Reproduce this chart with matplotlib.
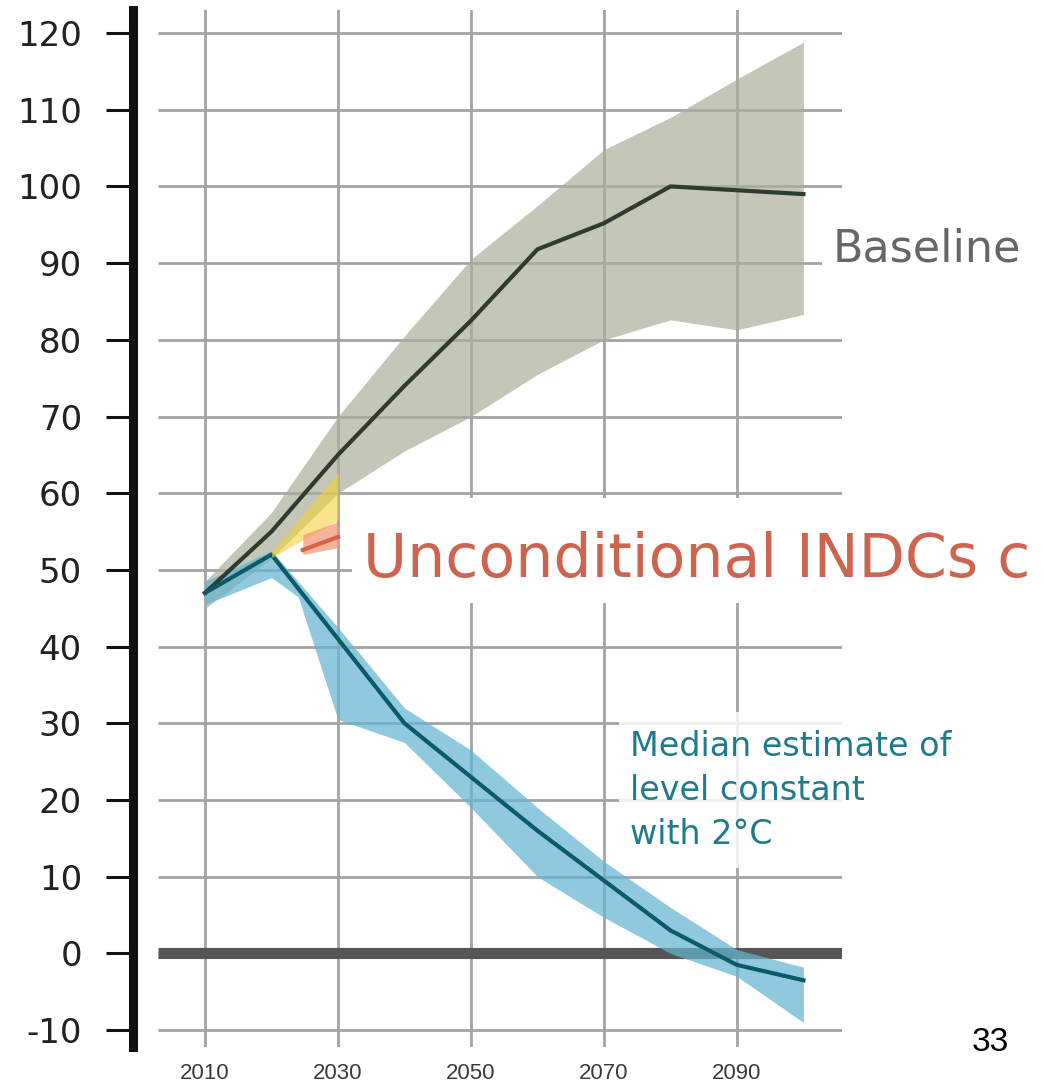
import matplotlib
matplotlib.use("Agg")
import matplotlib.pyplot as plt
import numpy as np
from matplotlib.patches import Rectangle

plt.rcParams['font.family'] = ['DejaVu Sans']

# ---------------- data ----------------
years = [2010, 2020, 2030, 2040, 2050, 2060, 2070, 2080, 2090, 2100]
baseline_median = [47, 55, 65, 74, 82.5, 91.8, 95.2, 100, 99.5, 99]
baseline_upper = [48.5, 57.5, 70, 80.5, 90.5, 97.5, 104.8, 109, 114, 118.8]
baseline_lower = [45, 51.5, 60, 65.5, 70, 75.5, 80, 82.6, 81.3, 83.3]

two_deg_median = [47, 52, 41, 30, 23, 16, 9.5, 3, -1.5, -3.5]
two_deg_upper = [48.5, 52.5, 42.5, 32, 26.5, 19, 12, 6, 0.5, -1.8]
lower_years = [2010, 2020, 2024, 2030, 2040, 2050, 2060, 2070, 2080, 2090, 2100]
two_deg_lower = [45.5, 49, 46.5, 30.5, 27.5, 19, 10, 4.7, 0, -3, -9]

cond_years = [2020, 2030]
cond_upper = [52.4, 62.7]
cond_lower = [51.6, 56.5]

uncond_years = [2024.7, 2030]
uncond_upper = [54.6, 56.3]
uncond_lower = [52.0, 52.9]
uncond_median = [52.6, 54.3]

yticks = [-10, 0, 10, 20, 30, 40, 50, 60, 70, 80, 90, 100, 110, 120]
ylabels = ["-10", "0", "10", "20", "30", "40", "50", "60", "70", "80", "90", "100", "110", "120"]
xticks = [2010, 2030, 2050, 2070, 2090]
xlabels = ["2010", "2030", "2050", "2070", "2090"]

# ---------------- figure ----------------
W, H = 1044, 1087
fig = plt.figure(figsize=(W / 100, H / 100), dpi=100)
fig.patch.set_facecolor("white")

def fx(px):
    return px / W

def fy(py):
    return 1 - py / H

ax = fig.add_axes([fx(133), fy(1047), fx(842) - fx(133), fy(10) - fy(1047)])
ax.set_xlim(1999.17, 2105.8)
ax.set_ylim(-12.2, 123.0)
ax.set_facecolor("white")

grid_left = 2002.9
grid_right = 2105.8
ax.hlines(yticks, grid_left, grid_right, colors="#a3a3a3", linewidth=2.0, zorder=1)
ax.set_xticks(xticks, labels=xlabels)
ax.grid(axis="x", color="#a3a3a3", linewidth=2.0, zorder=1)
ax.set_axisbelow(True)
ax.hlines(0, grid_left, grid_right, colors="#555555", linewidth=8, zorder=1.5)

# baseline
ax.fill_between(years, baseline_lower, baseline_upper, color="#acae9a", alpha=0.7,
                linewidth=0, zorder=2)
ax.plot(years, baseline_median, color="#2d3b30", linewidth=3, zorder=3,
        solid_joinstyle="round")

# 2 degree pathway (upper edge evaluated on the lower-edge year grid)
two_deg_upper_on_lower = np.interp(lower_years, years, two_deg_upper)
ax.fill_between(lower_years, two_deg_lower, two_deg_upper_on_lower,
                color="#65b5d0", alpha=0.72, linewidth=0, zorder=2.5)
ax.plot(years, two_deg_median, color="#0a5a6a", linewidth=3, zorder=3.5,
        solid_joinstyle="round")

# conditional / unconditional INDCs
ax.fill_between(cond_years, cond_lower, cond_upper, color="#f2d13a", alpha=0.6,
                linewidth=0, zorder=4)
ax.fill_between(uncond_years, uncond_lower, uncond_upper, color="#f29a78", alpha=0.75,
                linewidth=0, zorder=4.5)
ax.plot(uncond_years, uncond_median, color="#d9604a", linewidth=3, zorder=4.6)

# axes styling
for s in ("top", "right", "bottom"):
    ax.spines[s].set_visible(False)
ax.spines["left"].set_linewidth(6.5)
ax.spines["left"].set_color("#111111")
ax.spines["left"].set_zorder(6)

ax.set_yticks(yticks, labels=ylabels)
ax.tick_params(axis="y", direction="out", length=19.4, width=2.2, pad=17.3,
               colors="#111111", labelcolor="#222222", labelsize=24.5)
ax.tick_params(axis="x", length=0, pad=11.5, labelcolor="#3a3a3a", labelsize=16)
for lab in ax.get_xticklabels():
    lab.set_fontfamily("Liberation Sans")

# white label boxes
for (x0, y0, x1, y1, a) in [(822, 200, 1044, 290, 1.0),
                            (352, 498, 1044, 603, 1.0),
                            (619, 712, 1044, 868, 0.82)]:
    fig.add_artist(Rectangle((fx(x0), fy(y1)), fx(x1) - fx(x0), fy(y0) - fy(y1),
                             transform=fig.transFigure, facecolor="white",
                             edgecolor="none", alpha=a, zorder=1.5))

fig.text(fx(833), fy(262), "Baseline", fontsize=32, color="#666666",
         ha="left", va="baseline", zorder=3)
fig.text(fx(363), fy(577), "Unconditional INDCs c", fontsize=43.3, color="#cd6450",
         ha="left", va="baseline", zorder=3)
for txt, base in [("Median estimate of", 756), ("level constant", 800), ("with 2°C", 844)]:
    fig.text(fx(630), fy(base), txt, fontsize=24, color="#1f7a8a",
             ha="left", va="baseline", zorder=3)
fig.text(fx(972), fy(1051), "33", fontsize=24, color="black", family="Liberation Sans",
         ha="left", va="baseline", zorder=3)

fig.savefig("out.png", dpi=100, facecolor="white")
